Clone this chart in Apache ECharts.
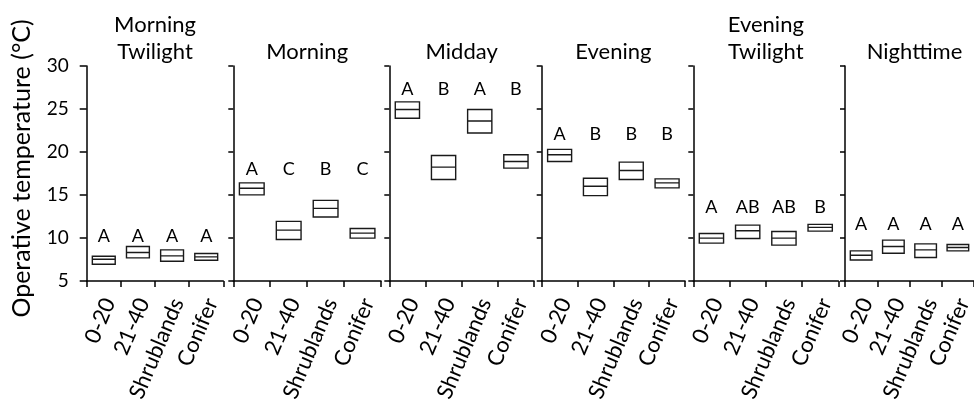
<!DOCTYPE html>
<html>
<head>
<meta charset="utf-8">
<script src="https://cdn.jsdelivr.net/npm/echarts@6/dist/echarts.min.js"></script>
<style>
  html, body { margin: 0; padding: 0; background: #fff; }
  #chart { width: 974px; height: 411px; }
</style>
</head>
<body>
<div id="chart"></div>
<script>
// Habitat categories shown in every period panel
const categories = ['0-20', '21-40', 'Shrublands', 'Conifer'];
// Period panels (line breaks as printed in the headers)
const periods = ['Morning\nTwilight', 'Morning', 'Midday', 'Evening', 'Evening\nTwilight', 'Nighttime'];

// Operative temperature (°C): lower edge, centre line and upper edge of each box
const boxLow = [
  [6.95, 7.69, 7.30, 7.41],
  [15.01, 9.83, 12.44, 9.98],
  [23.93, 16.80, 22.21, 18.12],
  [18.90, 14.93, 16.80, 15.83],
  [9.40, 9.95, 9.17, 10.80],
  [7.45, 8.23, 7.73, 8.50]
];
const boxMid = [
  [7.53, 8.31, 7.92, 7.80],
  [15.79, 10.92, 13.45, 10.57],
  [24.94, 18.24, 23.61, 18.90],
  [19.68, 16.02, 17.85, 16.41],
  [9.98, 10.84, 9.98, 11.23],
  [8.00, 9.01, 8.62, 8.89]
];
const boxHigh = [
  [7.88, 9.01, 8.62, 8.19],
  [16.41, 11.93, 14.38, 11.11],
  [25.83, 19.60, 24.94, 19.68],
  [20.30, 16.95, 18.82, 16.88],
  [10.53, 11.50, 10.76, 11.58],
  [8.50, 9.75, 9.32, 9.24]
];

// Significance letters and the temperature level each row of letters sits at
const letters = [
  ['A', 'A', 'A', 'A'],
  ['A', 'C', 'B', 'C'],
  ['A', 'B', 'A', 'B'],
  ['A', 'B', 'B', 'B'],
  ['A', 'AB', 'AB', 'B'],
  ['A', 'A', 'A', 'A']
];
const letterLevel = [10.2, 18.0, 27.3, 22.1, 13.6, 11.6];

// Y axis range and step
const yMin = 5, yMax = 30, yStep = 5;

const FONT = 'Lato, "Open Sans", sans-serif';
const INK = '#000';

// Panel horizontal extents (px) and shared vertical frame
const panelX = [[86.7, 223.3], [233.3, 381], [389.3, 534], [541.7, 685], [693.3, 838.3], [845, 984]];
const W = 974, H = 411, TOP = 66, BOTTOM = 281;

const grids = [], xAxes = [], yAxes = [], series = [], titles = [];

periods.forEach((period, i) => {
  const [x0, x1] = panelX[i];
  grids.push({ left: x0, width: x1 - x0, top: TOP, height: BOTTOM - TOP, containLabel: false });

  titles.push({
    text: period,
    left: (x0 + x1) / 2,
    top: 65,
    textAlign: 'center',
    textVerticalAlign: 'bottom',
    padding: 0,
    textStyle: { fontFamily: FONT, fontSize: 22, fontWeight: 'normal', color: INK, lineHeight: 27 }
  });

  xAxes.push({
    type: 'category',
    gridIndex: i,
    data: categories,
    boundaryGap: true,
    axisLine: { lineStyle: { color: INK, width: 1.5 } },
    axisTick: { show: true, length: 6, lineStyle: { color: INK, width: 1.5 } },
    axisLabel: {
      rotate: 67,
      interval: 0,
      margin: 16,
      lineHeight: 12,
      // leading blank line nudges each rotated label along its lower side
      formatter: (v) => '\n' + v,
      fontFamily: FONT,
      fontSize: 22,
      color: INK
    },
    splitLine: { show: false }
  });

  yAxes.push({
    type: 'value',
    gridIndex: i,
    min: yMin,
    max: yMax,
    interval: yStep,
    axisLine: { show: true, lineStyle: { color: INK, width: 1.5 } },
    axisTick: { show: true, length: i === 0 ? 7 : 5, lineStyle: { color: INK, width: 1.5 } },
    axisLabel: { show: i === 0, fontFamily: FONT, fontSize: 19, color: INK, margin: 18 },
    splitLine: { show: false },
    name: i === 0 ? 'Operative temperature (°C)' : '',
    nameLocation: 'middle',
    nameGap: 52,
    nameTextStyle: { fontFamily: FONT, fontSize: 25, color: INK, padding: [0, 0, 0, 10] }
  });

  series.push({
    type: 'boxplot',
    xAxisIndex: i,
    yAxisIndex: i,
    boxWidth: ['67%', '67%'],
    silent: true,
    itemStyle: { color: '#fff', borderColor: '#1a1a1a', borderWidth: 1.4 },
    data: categories.map((c, j) => [boxLow[i][j], boxLow[i][j], boxMid[i][j], boxHigh[i][j], boxHigh[i][j]])
  });

  series.push({
    type: 'custom',
    xAxisIndex: i,
    yAxisIndex: i,
    silent: true,
    data: categories.map((c, j) => [j, letterLevel[i]]),
    renderItem: (params, api) => {
      const p = api.coord([api.value(0), api.value(1)]);
      return {
        type: 'text',
        x: p[0],
        y: p[1],
        style: {
          text: letters[i][params.dataIndex],
          fontFamily: FONT,
          fontSize: 18,
          fill: INK,
          align: 'center',
          verticalAlign: 'middle'
        }
      };
    }
  });
});

const chart = echarts.init(document.getElementById('chart'), null, { renderer: 'canvas', width: W, height: H });
chart.setOption({
  backgroundColor: '#fff',
  animation: false,
  title: titles,
  grid: grids,
  xAxis: xAxes,
  yAxis: yAxes,
  series: series
});
</script>
</body>
</html>
